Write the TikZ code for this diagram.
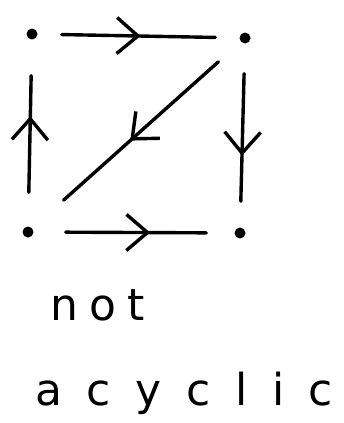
\documentclass[tikz,border=0pt]{standalone}
\usepackage{fontspec}
\newfontfamily\handfont{DejaVu Sans}
\usetikzlibrary{arrows.meta, decorations.markings}

\begin{document}
\begin{tikzpicture}[x=1pt,y=-1pt,
  vtx/.style={circle, fill=black, inner sep=0pt, minimum size=11pt},
  flow/.style={line width=3.4pt, line cap=round, shorten <=24pt, shorten >=24pt,
    postaction={decorate}, decoration={markings,
    mark=at position #1 with {\arrow[line width=3.4pt]{Straight Barb[length=21pt,width=36pt]}}}},
  flow/.default=0.5,
  word/.style={anchor=base west, inner sep=0pt, font=\handfont\fontsize{44}{50}\selectfont}]
\useasboundingbox (0,0) rectangle (343,423);
\node[vtx] (tl) at (32,34) {};
\node[vtx] (tr) at (245,38) {};
\node[vtx] (bl) at (28,232) {};
\node[vtx] (br) at (240,233) {};
\draw[flow=0.51] (tl) -- (tr);
\draw[flow=0.59, shorten <=34pt, shorten >=36pt] (bl) -- (tl);
\draw[flow=0.61, shorten <=30pt, shorten >=26pt] (tr) -- (br);
\draw[flow=0.53, shorten <=30pt, shorten >=42pt] (tr) -- (bl);
\draw[flow=0.58, shorten <=32pt, shorten >=28pt] (bl) -- (br);
\node[word, font=\handfont\fontsize{44}{50}\selectfont\addfontfeature{LetterSpace=25}] (lbl1) at (50,320) {not};
\node[word, font=\handfont\fontsize{44}{50}\selectfont\addfontfeature{LetterSpace=56}] (lbl2) at (35,405) {acyclic};
\end{tikzpicture}
\end{document}
